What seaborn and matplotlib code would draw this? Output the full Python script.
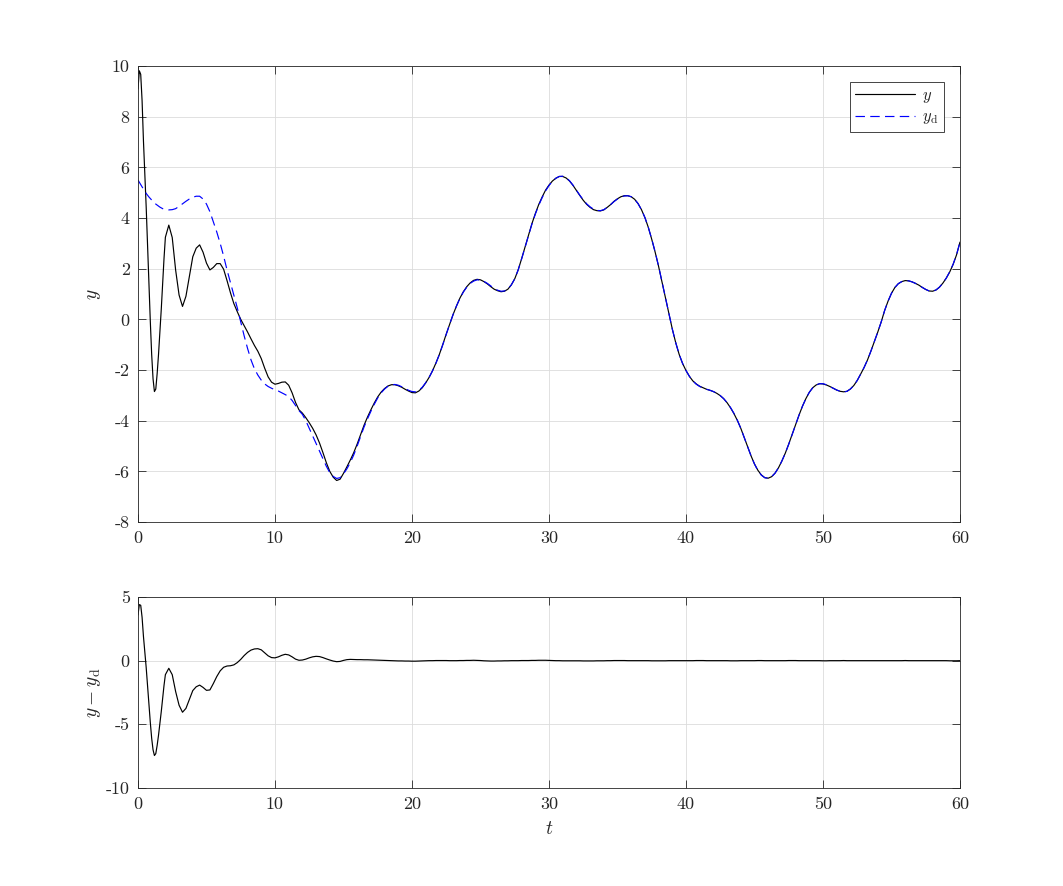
"""
Tracking plot: output y vs reference y_d, and the tracking error below.
"""

import numpy as np
import pandas as pd
import matplotlib
matplotlib.use("Agg")
import matplotlib.pyplot as plt
from matplotlib.ticker import FuncFormatter
import seaborn as sns

# ─────────────────────────────────────────────
# DATA
# ─────────────────────────────────────────────
# sample times: dense at the start, where the transient is fast
t = np.round(np.concatenate([
    np.arange(0.0, 2.01, 0.1),
    np.arange(2.25, 60.01, 0.25),
]), 2)

# reference y_d
y_ref = [
    # 0 .. 2 (step 0.1)
    5.50, 5.41, 5.32, 5.23, 5.14, 5.05, 4.97, 4.90, 4.83, 4.77, 4.71,
    4.65, 4.60, 4.55, 4.51, 4.47, 4.43, 4.40, 4.37, 4.35, 4.34,
    # 2.25 .. 60 (step 0.25)
    4.32, 4.33, 4.37, 4.46, 4.56, 4.66, 4.75, 4.82, 4.86, 4.86, 4.75, 4.55,
    4.25, 3.85, 3.45, 3.00, 2.50, 1.95, 1.45, 0.95, 0.45, -0.10, -0.65, -1.15,
    -1.60, -1.95, -2.20, -2.40, -2.55, -2.65, -2.72, -2.78, -2.83, -2.90, -2.97, -3.05,
    -3.20, -3.40, -3.60, -3.75, -4.00, -4.30, -4.60, -4.90, -5.20, -5.50, -5.80, -6.05,
    -6.20, -6.28, -6.25, -6.10, -5.90, -5.65, -5.35, -5.00,
    -4.63, -4.25, -3.93, -3.63, -3.35, -3.10, -2.90, -2.75, -2.64, -2.58, -2.57, -2.60,
    -2.66, -2.73, -2.80, -2.85, -2.86, -2.80, -2.68, -2.50, -2.29, -2.03, -1.73, -1.39,
    -1.00, -0.59, -0.19, 0.19, 0.53, 0.83, 1.08, 1.27, 1.42, 1.51, 1.56, 1.55,
    1.50, 1.42, 1.32, 1.22, 1.15, 1.11, 1.12, 1.20, 1.36, 1.60, 1.95, 2.38,
    2.84, 3.30, 3.75, 4.15, 4.50, 4.80, 5.07, 5.28, 5.45, 5.57, 5.64, 5.65,
    5.59, 5.47, 5.30, 5.10, 4.90, 4.72, 4.56, 4.44, 4.35, 4.30, 4.29, 4.33,
    4.42, 4.53, 4.65, 4.75, 4.83, 4.87, 4.88, 4.84, 4.74, 4.57, 4.33, 4.02,
    3.63, 3.17, 2.66, 2.10, 1.48, 0.85, 0.22, -0.38, -0.92, -1.38, -1.74, -2.02,
    -2.25, -2.43, -2.56, -2.65, -2.71, -2.76, -2.80, -2.85, -2.92, -3.01, -3.13, -3.29,
    -3.48, -3.71, -3.98, -4.30, -4.66, -5.03, -5.39, -5.71, -5.97, -6.15, -6.25, -6.27,
    -6.21, -6.07, -5.86, -5.59, -5.28, -4.93, -4.55, -4.16, -3.78, -3.43, -3.13, -2.88,
    -2.70, -2.59, -2.54, -2.54, -2.58, -2.65, -2.72, -2.79, -2.84, -2.87, -2.84, -2.75,
    -2.61, -2.41, -2.16, -1.90, -1.60, -1.25, -0.88, -0.50, -0.10, 0.35, 0.72, 1.03,
    1.26, 1.41, 1.49, 1.52, 1.52, 1.48, 1.42, 1.35, 1.26, 1.18, 1.12, 1.11,
    1.16, 1.27, 1.43, 1.63, 1.88, 2.18, 2.56, 3.05,
]

# tracking error y - y_d (bottom panel)
err = [
    # 0 .. 2 (step 0.1)
    3.59, 4.40, 4.35, 3.40, 1.90, 0.70, -0.55, -2.00, -3.50, -4.85, -6.10,
    -7.00, -7.45, -7.30, -6.65, -5.85, -4.95, -4.00, -2.95, -1.95, -1.10,
    # 2.25 .. 60 (step 0.25)
    -0.60, -1.10, -2.43, -3.50, -4.05, -3.75, -3.05, -2.35, -2.05, -1.92, -2.10, -2.33,
    -2.30, -1.80, -1.25, -0.80, -0.52, -0.42, -0.40, -0.33, -0.15, 0.10, 0.40, 0.65,
    0.83, 0.92, 0.94, 0.85, 0.62, 0.38, 0.24, 0.22, 0.30, 0.42, 0.50, 0.45,
    0.30, 0.12, 0.03, 0.05, 0.12, 0.22, 0.30, 0.34, 0.32, 0.24, 0.14, 0.05,
    -0.03, -0.08, -0.06, 0.02, 0.08, 0.10, 0.09, 0.08,
    0.08, 0.07, 0.07, 0.06, 0.05, 0.04, 0.03, 0.02, 0.01, 0.00, -0.01, -0.02,
    -0.02, -0.03, -0.03, -0.04, -0.04, -0.03, -0.02, -0.01, 0.00, 0.00, 0.01, 0.01,
    0.01, 0.01, 0.00, 0.00, 0.00, 0.01, 0.01, 0.02, 0.02, 0.03, 0.02, 0.01,
    -0.01, -0.02, -0.03, -0.03, -0.02, -0.02, -0.01, -0.01, 0.00, 0.00, 0.00, 0.01,
    0.01, 0.01, 0.02, 0.02, 0.03, 0.03, 0.03, 0.02, 0.01, 0.00, 0.00, -0.01,
    -0.01, -0.01, -0.01, -0.01, -0.01, -0.02, -0.02, -0.02, -0.02, -0.01, -0.01, -0.01,
    0.00, 0.00, 0.01, 0.01, 0.01, 0.01, 0.00, 0.00, 0.00, 0.00, 0.00, 0.00,
    0.00, -0.01, -0.01, -0.01, -0.01, -0.01, 0.00, 0.00, 0.00, 0.00, 0.00, 0.00,
    0.00, 0.00, 0.01, 0.01, 0.01, 0.00, 0.00, 0.00, 0.00, 0.00, 0.00, 0.00,
    -0.01, -0.01, -0.01, 0.00, 0.00, 0.00, 0.00, 0.00, 0.01, 0.01, 0.00, 0.00,
    0.00, 0.00, 0.00, 0.00, 0.00, 0.01, 0.01, 0.01, 0.00, 0.00, 0.00, 0.00,
    0.00, 0.00, 0.00, -0.01, -0.01, 0.00, 0.00, 0.00, 0.00, 0.01, 0.00, 0.00,
    0.00, 0.00, 0.00, 0.00, 0.00, 0.00, 0.00, 0.00, 0.00, 0.00, 0.00, 0.00,
    0.00, 0.00, 0.00, 0.01, 0.00, 0.00, 0.00, 0.00, 0.00, 0.00, 0.00, 0.00,
    0.00, 0.00, 0.00, 0.00, -0.01, -0.01, -0.01, 0.00,
]

assert len(t) == len(y_ref) == len(err), (len(t), len(y_ref), len(err))

df = pd.DataFrame({"t": t, "y_d": y_ref, "e": err})
df["y"] = df["y_d"] + df["e"]

# ─────────────────────────────────────────────
# STYLE (MATLAB-like)
# ─────────────────────────────────────────────
AX_COLOR = "#262626"
sns.set_theme(style="whitegrid")
plt.rcParams.update({
    "font.family": "cmr10",
    "mathtext.fontset": "cm",
    "axes.unicode_minus": False,
    "axes.formatter.use_mathtext": False,
    "axes.edgecolor": AX_COLOR,
    "axes.linewidth": 0.6,
    "axes.labelcolor": AX_COLOR,
    "text.color": AX_COLOR,
    "xtick.color": AX_COLOR,
    "ytick.color": AX_COLOR,
    "grid.color": "#dcdcdc",
    "grid.linewidth": 0.6,
    "axes.facecolor": "white",
    "figure.facecolor": "white",
})

FS = 13
plain = FuncFormatter(lambda v, pos: f"{v:g}")   # hyphen minus, like MATLAB

fig = plt.figure(figsize=(10.63, 8.86), dpi=100)
ax1 = fig.add_axes([0.1298, 0.4108, 0.7733, 0.5147])
ax2 = fig.add_axes([0.1298, 0.1106, 0.7733, 0.2156])


def matlab_axes(ax):
    ax.grid(True)
    ax.tick_params(direction="in", length=6, width=0.6, top=True, right=True,
                   bottom=True, left=True, labelsize=FS, pad=6)
    ax.xaxis.set_major_formatter(plain)
    ax.yaxis.set_major_formatter(plain)
    for s in ax.spines.values():
        s.set_visible(True)
        s.set_color(AX_COLOR)
        s.set_linewidth(0.6)
    ax.set_axisbelow(True)


# ── top: y and y_d ─────────────────────────
sns.lineplot(data=df, x="t", y="y", ax=ax1, color="black", lw=0.85,
             label=r"$y$", sort=False)
sns.lineplot(data=df, x="t", y="y_d", ax=ax1, color="blue", lw=0.85,
             linestyle=(0, (8, 4.5)), label=r"$y_{\mathrm{d}}$", sort=False)
ax1.set_xlim(0, 60)
ax1.set_ylim(-8, 10)
ax1.set_xticks(range(0, 61, 10))
ax1.set_yticks(range(-8, 11, 2))
ax1.set_xlabel("")
ax1.set_ylabel(r"$y$", fontsize=FS + 1, labelpad=6.5)
matlab_axes(ax1)
leg = ax1.legend(loc="upper right", fontsize=12, frameon=True, fancybox=False,
                 edgecolor=AX_COLOR, framealpha=1, handlelength=3.6,
                 borderpad=0.35, labelspacing=0.25, handletextpad=0.4,
                 borderaxespad=0.95)
leg.get_frame().set_linewidth(0.6)

# ── bottom: error ──────────────────────────
sns.lineplot(data=df, x="t", y="e", ax=ax2, color="black", lw=0.85, sort=False)
ax2.set_xlim(0, 60)
ax2.set_ylim(-10, 5)
ax2.set_xticks(range(0, 61, 10))
ax2.set_yticks([-10, -5, 0, 5])
ax2.set_xlabel(r"$t$", fontsize=FS + 1, labelpad=6)
ax2.set_ylabel(r"$y-y_{\mathrm{d}}$", fontsize=FS + 1, labelpad=2)
matlab_axes(ax2)

fig.savefig("out.png", dpi=100)
